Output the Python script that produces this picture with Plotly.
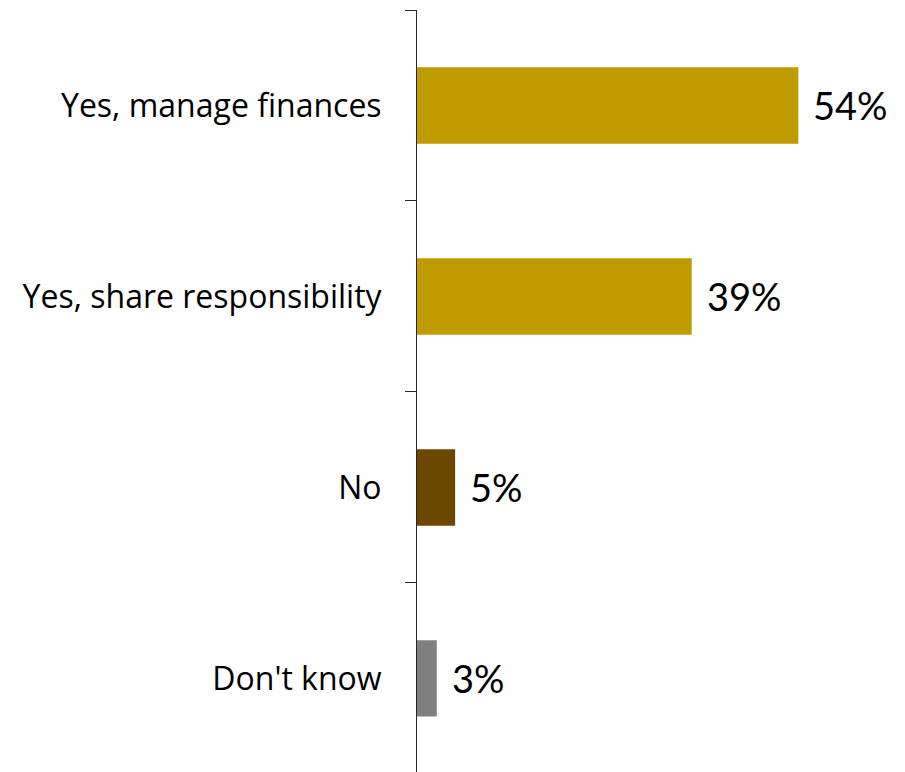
import plotly.graph_objects as go

categories = ["Yes, manage finances", "Yes, share responsibility", "No", "Don't know"]
values = [54, 38.9, 5.4, 2.8]
labels = ["54%", "39%", "5%", "3%"]
colors = ["#BF9B00", "#BF9B00", "#6B4700", "#7F7F7F"]

LABEL_FONT = "'Open Sans', sans-serif"
VALUE_FONT = "Lato, 'Open Sans', sans-serif"

fig = go.Figure()
fig.add_trace(go.Bar(
    y=categories, x=values, orientation="h",
    marker=dict(color=colors, line=dict(width=0)),
    hoverinfo="skip",
))

for c, v, t in zip(categories, values, labels):
    fig.add_annotation(x=v, y=c, text=t, showarrow=False, xanchor="left",
                       xshift=13, font=dict(family=VALUE_FONT, size=38, color="#000000"))

fig.update_layout(
    width=905, height=772,
    margin=dict(l=417, r=0, t=10, b=0),
    plot_bgcolor="white", paper_bgcolor="white",
    bargap=0.6,
    showlegend=False,
    xaxis=dict(range=[0, 69.1], visible=False, showgrid=False, zeroline=False),
    yaxis=dict(
        categoryorder="array", categoryarray=categories[::-1],
        autorange=False, range=[-0.49, 3.5],
        showline=True, linecolor="#262626", linewidth=1,
        ticks="outside", ticklen=11, tickcolor="#262626", tickwidth=1,
        tickson="boundaries",
        ticklabelstandoff=28,
        tickfont=dict(family=LABEL_FONT, size=32, color="#000000"),
        showgrid=False, zeroline=False,
    ),
)

fig.write_html("out.html")
